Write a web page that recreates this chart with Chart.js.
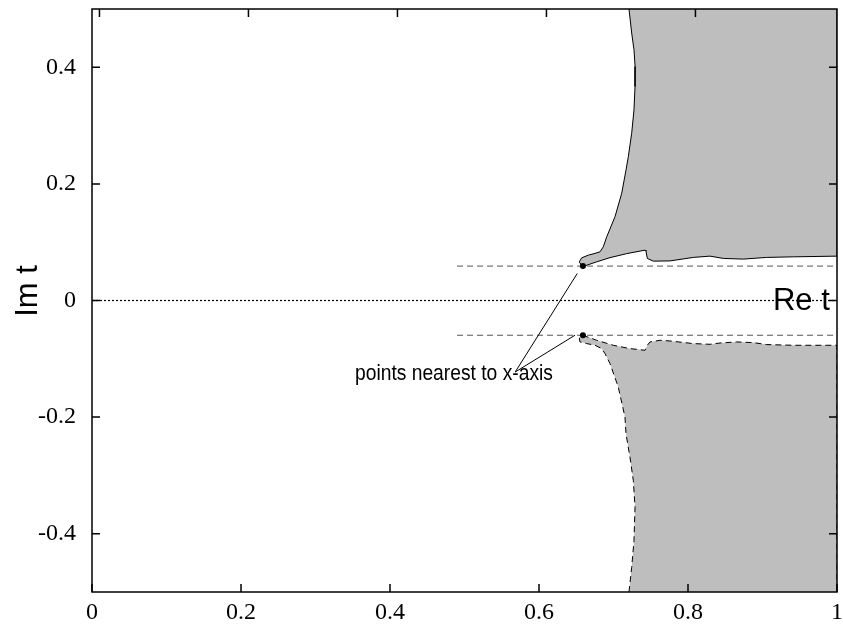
<!DOCTYPE html>
<html>
<head>
<meta charset="utf-8">
<script src="https://cdn.jsdelivr.net/npm/chart.js@4/dist/chart.umd.min.js"></script>
<style>
  html, body { margin: 0; padding: 0; background: #fff; }
  #wrap { width: 843px; height: 635px; }
</style>
</head>
<body>
<div id="wrap"><canvas id="chart"></canvas></div>
<script>
// tick values
const xTicks = [0, 0.2, 0.4, 0.6, 0.8, 1];
const yTicks = [-0.4, -0.2, 0, 0.2, 0.4];

// upper shaded region: top edge -> down to the tip -> along to Re t = 1 -> corner
const upperX = [0.7208, 0.7244, 0.7275, 0.7290, 0.7289, 0.7275, 0.7244, 0.7199, 0.7168, 0.7110,
                0.7020, 0.6909, 0.6863, 0.6819, 0.6752, 0.6662, 0.6573, 0.6541, 0.6573, 0.6617,
                0.6774, 0.6953, 0.7177, 0.7423, 0.7436, 0.7454, 0.7534, 0.7758, 0.8071, 0.8295,
                0.8474, 0.8743, 0.9057, 0.9414, 1.0, 1.0];
const upperY = [0.5, 0.4588, 0.4301, 0.4014, 0.3670, 0.3270, 0.2869, 0.2467, 0.2239, 0.1838,
                0.1436, 0.1093, 0.0921, 0.0835, 0.0808, 0.0778, 0.0732, 0.0663, 0.0595, 0.0595,
                0.0663, 0.0735, 0.0804, 0.0864, 0.0847, 0.0722, 0.0675, 0.0679, 0.0739, 0.0761,
                0.0722, 0.0710, 0.0739, 0.0749, 0.0761, 0.5];

// lower shaded region (dashed edge): bottom edge -> up to the tip -> along to Re t = 1 -> corner
const lowerX = [0.7208, 0.7244, 0.7275, 0.7289, 0.7266, 0.7221, 0.7168, 0.7154, 0.7064, 0.6953,
                0.6886, 0.6842, 0.6752, 0.6640, 0.6550, 0.6541, 0.6587, 0.6774, 0.6997, 0.7221,
                0.7423, 0.7454, 0.7490, 0.7624, 0.7758, 0.8071, 0.8295, 0.8430, 0.8654, 0.8877,
                0.9057, 0.9414, 1.0, 1.0];
const lowerY = [-0.5, -0.4577, -0.4119, -0.3546, -0.3088, -0.2687, -0.2287, -0.2000, -0.1485, -0.1082,
                -0.0911, -0.0825, -0.0768, -0.0739, -0.0711, -0.0643, -0.0596, -0.0682, -0.0768, -0.0825,
                -0.0854, -0.0768, -0.0711, -0.0682, -0.0694, -0.0739, -0.0751, -0.0729, -0.0711, -0.0722,
                -0.0756, -0.0768, -0.0768, -0.5];

// points nearest to the x-axis
const nearX = [0.659, 0.659];
const nearY = [0.059, -0.0596];

// dashed levels through those points
const levelX = [0.49, 1];
const levelUp = [0.059, 0.059];
const levelDown = [-0.0596, -0.0596];

// leader lines from the label to the two points
const leaderX = [0.6514, 0.568, 0.6483];
const leaderY = [0.0464, -0.1227, -0.0596];

const noteText = 'points nearest to x-axis';
const noteX = 0.353, noteY = -0.137;
const reText = 'Re t', reX = 0.914, reY = -0.0155;
const imText = 'Im t';
const topTickShift = 0.01;

function pts(xs, ys) {
    return xs.map((x, i) => ({x: x, y: ys[i]}));
}

function noPad(s) {
    s.paddingLeft = 0;
    s.paddingRight = 0;
    s.paddingTop = 0;
    s.paddingBottom = 0;
}

const framePlugin = {
    id: 'frame',
    afterDatasetsDraw(chart) {
        const {ctx, chartArea: a, scales: {x, y}} = chart;
        ctx.save();
        ctx.strokeStyle = '#000';
        ctx.lineWidth = 1.5;
        ctx.strokeRect(a.left, a.top, a.right - a.left, a.bottom - a.top);
        ctx.beginPath();
        xTicks.forEach(v => {
            const px = x.getPixelForValue(v);
            ctx.moveTo(px, a.bottom);
            ctx.lineTo(px, a.bottom - 8);
            if (v + topTickShift < 1) {
                const pt = x.getPixelForValue(v + topTickShift);
                ctx.moveTo(pt, a.top);
                ctx.lineTo(pt, a.top + 8);
            }
        });
        yTicks.forEach(v => {
            const py = y.getPixelForValue(v);
            ctx.moveTo(a.left, py);
            ctx.lineTo(a.left + 8, py);
            ctx.moveTo(a.right, py);
            ctx.lineTo(a.right - 8, py);
        });
        ctx.stroke();

        ctx.fillStyle = '#000';
        ctx.font = '31px "Liberation Sans", Arial, sans-serif';
        ctx.textAlign = 'left';
        ctx.textBaseline = 'alphabetic';
        ctx.fillText(reText, x.getPixelForValue(reX), y.getPixelForValue(reY));

        ctx.save();
        ctx.translate(37, 291);
        ctx.rotate(-Math.PI / 2);
        ctx.textAlign = 'center';
        ctx.fillText(imText, 0, 0);
        ctx.restore();

        ctx.save();
        ctx.translate(x.getPixelForValue(noteX), y.getPixelForValue(noteY));
        ctx.scale(0.875, 1);
        ctx.font = '22px "Liberation Sans", Arial, sans-serif';
        ctx.fillText(noteText, 0, 0);
        ctx.restore();
        ctx.restore();
    }
};

const tickFont = {family: '"Liberation Serif", "Times New Roman", serif', size: 24};

new Chart(document.getElementById('chart'), {
    type: 'scatter',
    data: {
        datasets: [
            {
                data: pts(upperX, upperY),
                showLine: true, fill: 'shape', backgroundColor: '#bebebe',
                borderColor: '#000', borderWidth: 1, pointRadius: 0, tension: 0, order: 10
            },
            {
                data: pts(lowerX, lowerY),
                showLine: true, fill: 'shape', backgroundColor: '#bebebe',
                borderColor: '#000', borderWidth: 1, borderDash: [6, 4], pointRadius: 0, tension: 0, order: 9
            },
            {
                data: [{x: 0, y: 0}, {x: 1, y: 0}],
                showLine: true, borderColor: '#000', borderWidth: 1.2, borderDash: [2, 2], pointRadius: 0, order: 6
            },
            {
                data: pts(levelX, levelUp),
                showLine: true, borderColor: '#555', borderWidth: 1, borderDash: [6, 4], pointRadius: 0, order: 5
            },
            {
                data: pts(levelX, levelDown),
                showLine: true, borderColor: '#555', borderWidth: 1, borderDash: [6, 4], pointRadius: 0, order: 5
            },
            {
                data: pts(leaderX, leaderY),
                showLine: true, borderColor: '#000', borderWidth: 1, pointRadius: 0, tension: 0, order: 4
            },
            {
                data: pts(nearX, nearY),
                showLine: false, pointRadius: 3, pointBackgroundColor: '#000', pointBorderWidth: 0, order: 1
            }
        ]
    },
    options: {
        responsive: true,
        maintainAspectRatio: false,
        animation: false,
        devicePixelRatio: 1,
        layout: {padding: {left: 0, right: 6, top: 9, bottom: 0}},
        plugins: {
            legend: {display: false},
            tooltip: {enabled: false}
        },
        scales: {
            x: {
                type: 'linear', min: 0, max: 1,
                grid: {display: false, drawTicks: false},
                border: {display: false},
                afterBuildTicks: s => { s.ticks = xTicks.map(v => ({value: v})); },
                afterFit: s => { s.height = 43; noPad(s); },
                ticks: {font: tickFont, color: '#000', padding: 6, maxRotation: 0, callback: v => String(v)}
            },
            y: {
                type: 'linear', min: -0.5, max: 0.5,
                grid: {display: false, drawTicks: false},
                border: {display: false},
                afterBuildTicks: s => { s.ticks = yTicks.map(v => ({value: v})); },
                afterFit: s => { s.width = 92; noPad(s); },
                ticks: {font: tickFont, color: '#000', padding: 16, callback: v => String(v)}
            }
        }
    },
    plugins: [framePlugin]
});
</script>
</body>
</html>
